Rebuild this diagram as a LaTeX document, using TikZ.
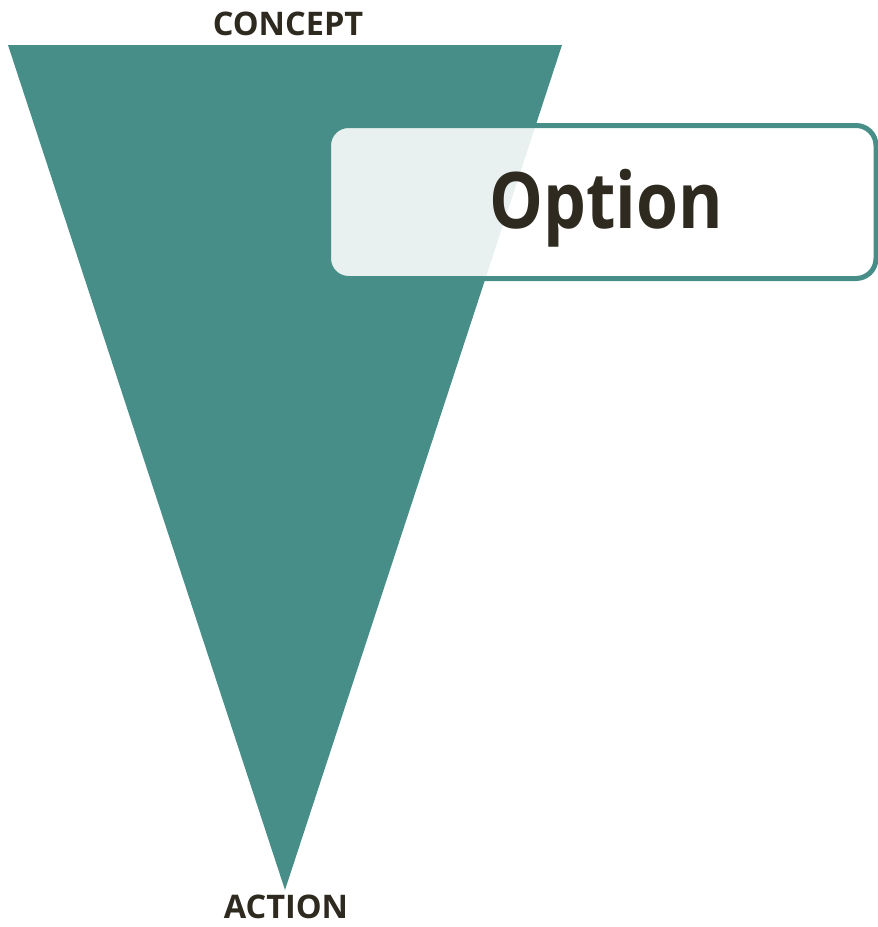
\documentclass[tikz,border=0pt]{standalone}
\usepackage{fontspec}
\setmainfont{Open Sans}
\newfontfamily\optfont[FakeStretch=0.87]{Open Sans}
\definecolor{teal1}{HTML}{478E89}
\definecolor{ink}{HTML}{2E2A20}
\begin{document}
\begin{tikzpicture}[x=1pt,y=-1pt,
  lbl/.style={font=\bfseries\fontsize{32.5}{32.5}\selectfont, text=ink, inner sep=0pt, anchor=base},
  big/.style={font=\optfont\bfseries\fontsize{78}{78}\selectfont, text=ink, inner sep=0pt, anchor=base}]
\useasboundingbox (0,0) rectangle (878,927);
\fill[teal1] (8,45) coordinate (tl) -- (562,45) coordinate (tr) -- (285,890) coordinate (bt) -- cycle;
\draw[teal1, line width=5pt, fill=white, fill opacity=0.88, rounded corners=20pt]
  (328.5,125.5) rectangle (876,278.5);
\node[big] (opt) at (606,228) {Option};
\node[lbl] (concept) at (288,35) {CONCEPT};
\node[lbl] (action) at (286,918) {ACTION};
\end{tikzpicture}
\end{document}
